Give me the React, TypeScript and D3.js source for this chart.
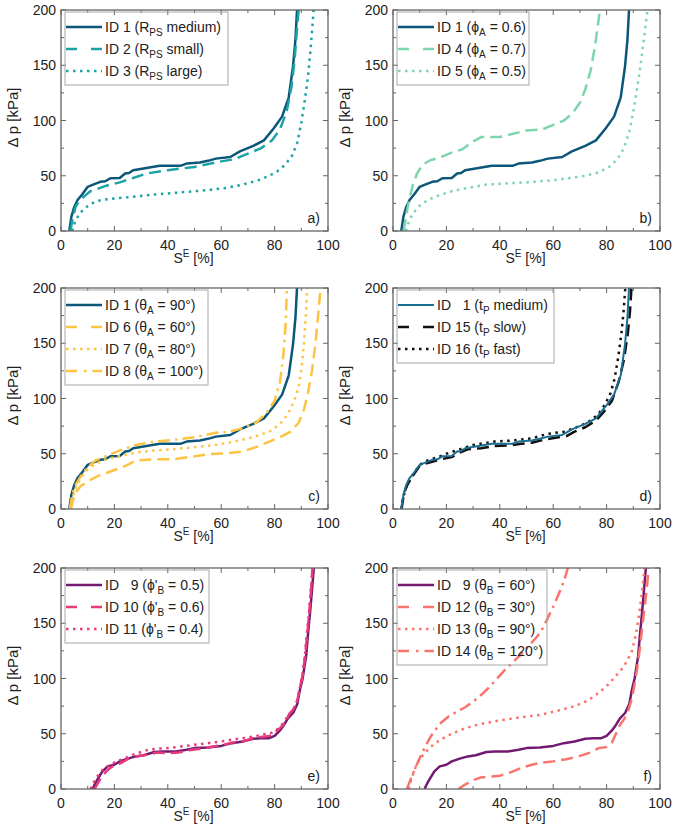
import * as d3 from 'd3';

type Pt = [number, number];

// S^E [%] vs Δp [kPa]
const id1: Pt[] = [
  [3.1, 0], [3.9, 13], [5, 22], [6.2, 28], [7.9, 33], [10, 40], [12, 42], [14.7, 44.5], [16.6, 45],
  [18.5, 47.7], [22, 48], [24, 52], [25.5, 52.5], [27, 55], [32, 57], [37, 59], [44.7, 59], [47, 61],
  [52, 62], [55, 63.5], [58, 65.5], [63.4, 67], [67, 72], [72, 77], [76, 82], [79.7, 93], [82.8, 103.5],
  [85.3, 121], [86.9, 149], [87.8, 173], [88.4, 200],
];
const id2: Pt[] = [
  [3.5, 0], [4.5, 13], [5.5, 22], [7, 28], [9, 32], [11, 36], [13.5, 38], [17, 41], [22, 44], [27, 48],
  [32, 52], [40, 55], [50, 58], [60, 63], [65, 65], [70, 70], [75, 75], [79, 82], [82, 92], [84.5, 108],
  [86.3, 130], [87.5, 155], [88.3, 180], [89, 200],
];
const id3: Pt[] = [
  [4.2, 0], [5.2, 8], [6.5, 14], [8.5, 20], [11.5, 25], [15, 28], [20, 29.5], [27, 31], [35, 33], [45, 35],
  [55, 37], [62, 39], [68, 42], [74, 46], [78, 50], [81, 54], [84, 60], [86.5, 68], [88.5, 80], [90, 98],
  [91.3, 118], [92.5, 140], [93.3, 160], [94, 180], [94.6, 200],
];
const id4: Pt[] = [
  [4, 0], [5, 15], [6, 28], [7.5, 42], [9, 52], [11, 60], [14, 64], [18, 67], [22, 71], [26, 74], [30, 81],
  [33, 85], [40, 85], [45, 88], [50, 91], [56, 92], [60, 96], [64, 100], [67, 106], [70, 116], [72, 128],
  [74, 145], [75.5, 165], [76.5, 182], [77.5, 200],
];
const id5: Pt[] = [
  [4.8, 0], [6, 9], [7.5, 16], [10, 23], [13, 28], [17, 32], [22, 36], [28, 39], [35, 42], [42, 43], [50, 44],
  [58, 45.5], [65, 47.5], [72, 50], [77, 53], [81, 58], [84, 65], [86.5, 75], [88.5, 90], [90, 108],
  [91.5, 130], [93, 155], [94.3, 180], [95.3, 200],
];
const id6: Pt[] = [
  [3.7, 0], [4.5, 8], [5.5, 15], [7.5, 21], [9.5, 24], [11.5, 27], [14, 30], [17.5, 33], [22, 37], [25, 40],
  [28, 44], [35, 45], [42, 45], [48, 47], [55, 49.5], [62, 50.5], [68, 52], [73, 56], [78, 61], [82, 65],
  [86, 70], [89, 78], [91, 90], [92.5, 105], [94, 125], [95.3, 150], [96.3, 175], [97.2, 200],
];
const id7: Pt[] = [
  [3.5, 0], [4.5, 12], [6, 22], [8, 30], [10, 36], [13, 41], [17, 45], [22, 48], [28, 51], [35, 53], [42, 54],
  [50, 56], [58, 58], [65, 61], [72, 65], [78, 70], [82, 77], [85, 86], [87, 96], [89, 110], [90.2, 130],
  [91, 150], [91.7, 175], [92.2, 200],
];
const id8: Pt[] = [
  [3.3, 0], [4.3, 14], [5.5, 22], [7.5, 30], [10, 38], [13, 44], [17, 48], [22, 53], [28, 58], [35, 61],
  [42, 62.5], [50, 65], [58, 69], [63, 70], [68, 73], [73, 78], [77, 87], [80, 98], [82, 115], [83.3, 140],
  [84.2, 170], [84.6, 200],
];
const id15: Pt[] = [
  [3.2, 0], [4, 13], [5, 20], [6.5, 27], [8, 32], [10, 39], [12, 41], [15, 43], [18, 45], [22, 47], [25, 51],
  [28, 54], [33, 55], [38, 57], [44, 57.5], [48, 59], [52, 60], [57, 63], [62, 65], [65, 66], [68, 70],
  [72, 74], [76, 80], [79, 88], [82, 98], [84.5, 115], [86.5, 135], [88, 160], [88.8, 180], [89.3, 200],
];
const id16: Pt[] = [
  [3.2, 0], [4, 12], [5, 20], [6.5, 27], [8, 33], [10, 40], [13, 44], [17, 47], [20, 50], [25, 54], [30, 58],
  [38, 61], [45, 62], [52, 64], [58, 68], [64, 70], [70, 75], [74, 80], [77, 86], [79.5, 95], [81.5, 105],
  [83, 118], [84.4, 138], [85.5, 158], [86.3, 177], [87, 200],
];
const id9: Pt[] = [
  [11.8, 0], [12.8, 5], [14, 10], [15.5, 16], [17.5, 20.5], [20, 22], [22, 25], [25, 27.5], [28, 29.5],
  [31, 30.5], [35, 33.5], [38, 34], [43, 34], [47, 35.5], [50, 37], [55, 37.5], [60, 39], [64, 41.5],
  [68, 43], [72, 45.5], [75, 46], [78, 46], [80, 48], [82, 53], [83.5, 58], [85, 64], [87, 69], [88.5, 77],
  [89.5, 90], [90.5, 100], [91, 108], [91.8, 120], [92.5, 140], [93.3, 160], [94, 180], [94.7, 200],
];
const id10: Pt[] = [
  [12.5, 0], [13.5, 4], [15, 10], [17, 16], [19, 20], [22, 23], [25, 27], [28, 29.5], [32, 31], [36, 33],
  [40, 32.5], [44, 33], [48, 35], [52, 36.5], [56, 38], [60, 39.5], [64, 42], [68, 43], [72, 46], [75, 47],
  [78, 48], [80, 51], [82, 55], [84, 60], [85.5, 68], [87, 72], [88.5, 80], [89.5, 92], [90.5, 103],
  [91.3, 118], [92, 135], [92.8, 155], [93.5, 175], [94.2, 200],
];
const id11: Pt[] = [
  [11, 0], [12, 5], [13.5, 11], [15, 16], [17, 20], [20, 24], [24, 28], [28, 32], [32, 35], [36, 36.5],
  [40, 37], [45, 38.5], [50, 40], [55, 41.5], [60, 43], [65, 45], [70, 46.5], [75, 49], [79, 51], [81, 54],
  [83, 59], [85, 66], [87, 72], [88.5, 80], [89.5, 92], [90.5, 105], [91.3, 120], [92, 138], [92.8, 158],
  [93.5, 178], [94.3, 200],
];
const id12: Pt[] = [
  [24.5, 0], [27, 4], [30, 8], [33, 10.5], [36, 11], [40, 12], [44, 15], [48, 19], [52, 22], [56, 24],
  [60, 25], [65, 27], [70, 30], [74, 33], [77, 37], [80, 38], [82, 42], [83.5, 50], [85, 58], [86.5, 63],
  [88, 70], [89.5, 82], [90.5, 95], [91.5, 110], [92.5, 128], [93.5, 150], [94.5, 170], [95.3, 188], [95.8, 200],
];
const id13: Pt[] = [
  [5.8, 0], [7, 10], [8.5, 20], [10, 27], [12, 33], [15, 40], [18, 45], [22, 50], [27, 55], [33, 59], [40, 62],
  [48, 65], [55, 67], [62, 71], [68, 75], [73, 80], [77, 87], [80, 93], [83, 101], [85.5, 108], [87.5, 115],
  [89.5, 125], [91, 140], [92.3, 160], [93.3, 180], [94.2, 200],
];
const id14: Pt[] = [
  [5.2, 0], [6.5, 8], [8, 17], [10, 28], [12, 38], [14, 47], [16, 54], [18, 60], [21, 66], [24, 70], [27, 74],
  [30, 79], [33, 85], [36, 92], [39, 100], [42, 108], [45, 115], [48, 122], [51, 130], [54, 138], [56, 145],
  [58, 155], [60, 165], [62, 176], [64, 188], [65.5, 200],
];

const xTicks = [0, 20, 40, 60, 80, 100];
const yTicks = [0, 50, 100, 150, 200];

type Style = 'solid' | 'dash' | 'dot' | 'dashdot';
type Series = {
  data: Pt[];
  color: string;
  style: Style;
  label: [string, string, string];
  width?: number;
  onTop?: boolean;
};

const DARK = '#0c5779';
const TEAL = '#1ba3a6';
const MINT = '#7fd5ab';
const GOLD = '#fdc443';
const PURPLE = '#721a70';
const PINK = '#e8397b';
const SALMON = '#f8746c';

const panels: { letter: string; legendW: number; series: Series[] }[] = [
  {
    letter: 'a)',
    legendW: 163,
    series: [
      { data: id1, color: DARK, style: 'solid', label: ['ID 1 (R', 'PS', ' medium)'] },
      { data: id2, color: TEAL, style: 'dash', label: ['ID 2 (R', 'PS', ' small)'] },
      { data: id3, color: TEAL, style: 'dot', label: ['ID 3 (R', 'PS', ' large)'] },
    ],
  },
  {
    letter: 'b)',
    legendW: 132,
    series: [
      { data: id1, color: DARK, style: 'solid', label: ['ID 1 (ϕ', 'A', ' = 0.6)'] },
      { data: id4, color: MINT, style: 'dash', label: ['ID 4 (ϕ', 'A', ' = 0.7)'] },
      { data: id5, color: MINT, style: 'dot', label: ['ID 5 (ϕ', 'A', ' = 0.5)'] },
    ],
  },
  {
    letter: 'c)',
    legendW: 143,
    series: [
      { data: id1, color: DARK, style: 'solid', label: ['ID 1 (θ', 'A', ' = 90°)'] },
      { data: id6, color: GOLD, style: 'dash', label: ['ID 6 (θ', 'A', ' = 60°)'] },
      { data: id7, color: GOLD, style: 'dot', label: ['ID 7 (θ', 'A', ' = 80°)'] },
      { data: id8, color: GOLD, style: 'dashdot', label: ['ID 8 (θ', 'A', ' = 100°)'] },
    ],
  },
  {
    letter: 'd)',
    legendW: 157,
    series: [
      { data: id1, color: '#1b6d92', style: 'solid', width: 2, onTop: true, label: ['ID   1 (t', 'P', ' medium)'] },
      { data: id15, color: '#111', style: 'dash', label: ['ID 15 (t', 'P', ' slow)'] },
      { data: id16, color: '#111', style: 'dot', label: ['ID 16 (t', 'P', ' fast)'] },
    ],
  },
  {
    letter: 'e)',
    legendW: 144,
    series: [
      { data: id9, color: PURPLE, style: 'solid', label: ["ID   9 (ϕ'", 'B', ' = 0.5)'] },
      { data: id10, color: PINK, style: 'dash', label: ["ID 10 (ϕ'", 'B', ' = 0.6)'] },
      { data: id11, color: PINK, style: 'dot', label: ["ID 11 (ϕ'", 'B', ' = 0.4)'] },
    ],
  },
  {
    letter: 'f)',
    legendW: 150,
    series: [
      { data: id9, color: PURPLE, style: 'solid', label: ['ID   9 (θ', 'B', ' = 60°)'] },
      { data: id12, color: SALMON, style: 'dash', label: ['ID 12 (θ', 'B', ' = 30°)'] },
      { data: id13, color: SALMON, style: 'dot', label: ['ID 13 (θ', 'B', ' = 90°)'] },
      { data: id14, color: SALMON, style: 'dashdot', label: ['ID 14 (θ', 'B', ' = 120°)'] },
    ],
  },
];

const FONT = '"Liberation Sans", Arial, Helvetica, sans-serif';
const PW = 267;
const PH = 221;
const COLS = [61, 393];
const ROWS = [10, 288, 568];

const plotDash: Record<Style, string | undefined> = {
  solid: undefined,
  dash: '12 6',
  dot: '2.5 4.5',
  dashdot: '12 5 2.5 5',
};
const legendDash: Record<Style, string | undefined> = {
  solid: undefined,
  dash: '11 14',
  dot: '2.5 4.5',
  dashdot: '11 7 2.5 6',
};

function Panel({ idx, px, py }: { idx: number; px: number; py: number }) {
  const p = panels[idx];
  const x = d3.scaleLinear().domain([0, 100]).range([px, px + PW]);
  const y = d3.scaleLinear().domain([0, 200]).range([py + PH, py]);
  const line = d3
    .line<Pt>()
    .x((d) => x(d[0]))
    .y((d) => y(d[1]));
  const xMinor = d3.range(10, 100, 20);
  const yMinor = d3.range(25, 200, 50);
  const axisColor = '#666';
  const clipId = `clip-${idx}`;
  const lx = px + 4;
  const ly = py + 2;
  const rowH = 22;
  const boxH = 17 + rowH * (p.series.length - 1) + 12;
  // series flagged onTop are painted last
  const drawOrder = [...p.series].sort((a, b) => Number(!!a.onTop) - Number(!!b.onTop));

  return (
    <g fontFamily={FONT}>
      <clipPath id={clipId}>
        <rect x={px} y={py} width={PW} height={PH} />
      </clipPath>

      {drawOrder.map((s, i) => (
        <path
          key={i}
          d={line(s.data) ?? ''}
          fill="none"
          stroke={s.color}
          strokeWidth={s.width ?? 2.5}
          strokeDasharray={plotDash[s.style]}
          strokeLinejoin="round"
          clipPath={`url(#${clipId})`}
        />
      ))}

      {/* frame and inward ticks */}
      <rect x={px} y={py} width={PW} height={PH} fill="none" stroke={axisColor} strokeWidth={1.3} />
      {xTicks.map((t) => (
        <g key={`xt${t}`} stroke={axisColor} strokeWidth={1}>
          <line x1={x(t)} x2={x(t)} y1={py + PH} y2={py + PH - 5} />
          <line x1={x(t)} x2={x(t)} y1={py} y2={py + 5} />
        </g>
      ))}
      {xMinor.map((t) => (
        <g key={`xm${t}`} stroke={axisColor} strokeWidth={1}>
          <line x1={x(t)} x2={x(t)} y1={py + PH} y2={py + PH - 3} />
          <line x1={x(t)} x2={x(t)} y1={py} y2={py + 3} />
        </g>
      ))}
      {yTicks.map((t) => (
        <g key={`yt${t}`} stroke={axisColor} strokeWidth={1}>
          <line x1={px} x2={px + 5} y1={y(t)} y2={y(t)} />
          <line x1={px + PW} x2={px + PW - 5} y1={y(t)} y2={y(t)} />
        </g>
      ))}
      {yMinor.map((t) => (
        <g key={`ym${t}`} stroke={axisColor} strokeWidth={1}>
          <line x1={px} x2={px + 3} y1={y(t)} y2={y(t)} />
          <line x1={px + PW} x2={px + PW - 3} y1={y(t)} y2={y(t)} />
        </g>
      ))}

      {xTicks.map((t) => (
        <text key={`xl${t}`} x={x(t)} y={py + PH + 19} fontSize={14} textAnchor="middle" fill="#222">
          {t}
        </text>
      ))}
      {yTicks.map((t) => (
        <text key={`yl${t}`} x={px - 5} y={y(t) + 5} fontSize={14} textAnchor="end" fill="#222">
          {t}
        </text>
      ))}

      <text x={px + PW / 2 - 1} y={py + PH + 32} fontSize={14} textAnchor="middle" fill="#222">
        S
        <tspan fontSize={10} dy={-6}>
          E
        </tspan>
        <tspan dy={6}> [%]</tspan>
      </text>
      <text
        transform={`translate(${px - 43},${py + PH / 2 - 3}) rotate(-90)`}
        fontSize={15}
        textAnchor="middle"
        fill="#222"
      >
        Δ p [kPa]
      </text>

      <text x={px + PW - 8} y={py + PH - 8} fontSize={14} textAnchor="end" fill="#222">
        {p.letter}
      </text>

      {/* legend */}
      <rect x={lx} y={ly} width={p.legendW} height={boxH} fill="none" stroke="#a8a8a8" strokeWidth={1} />
      {p.series.map((s, i) => {
        const cy = py + 17 + i * rowH;
        return (
          <g key={`lg${i}`}>
            <line
              x1={lx + 1}
              x2={lx + 37}
              y1={cy}
              y2={cy}
              stroke={s.color}
              strokeWidth={s.width ?? 2.5}
              strokeDasharray={legendDash[s.style]}
            />
            <text x={lx + 40} y={cy + 5} fontSize={14} fill="#222" style={{ whiteSpace: 'pre' }}>
              {s.label[0]}
              <tspan fontSize={10} dy={4}>
                {s.label[1]}
              </tspan>
              <tspan dy={-4}>{s.label[2]}</tspan>
            </text>
          </g>
        );
      })}
    </g>
  );
}

export default function App() {
  return (
    <svg
      width={675}
      height={836}
      viewBox="0 0 675 836"
      style={{ position: 'absolute', left: 0, top: 0, background: '#fff' }}
    >
      {panels.map((_, i) => (
        <Panel key={i} idx={i} px={COLS[i % 2]} py={ROWS[Math.floor(i / 2)]} />
      ))}
    </svg>
  );
}
